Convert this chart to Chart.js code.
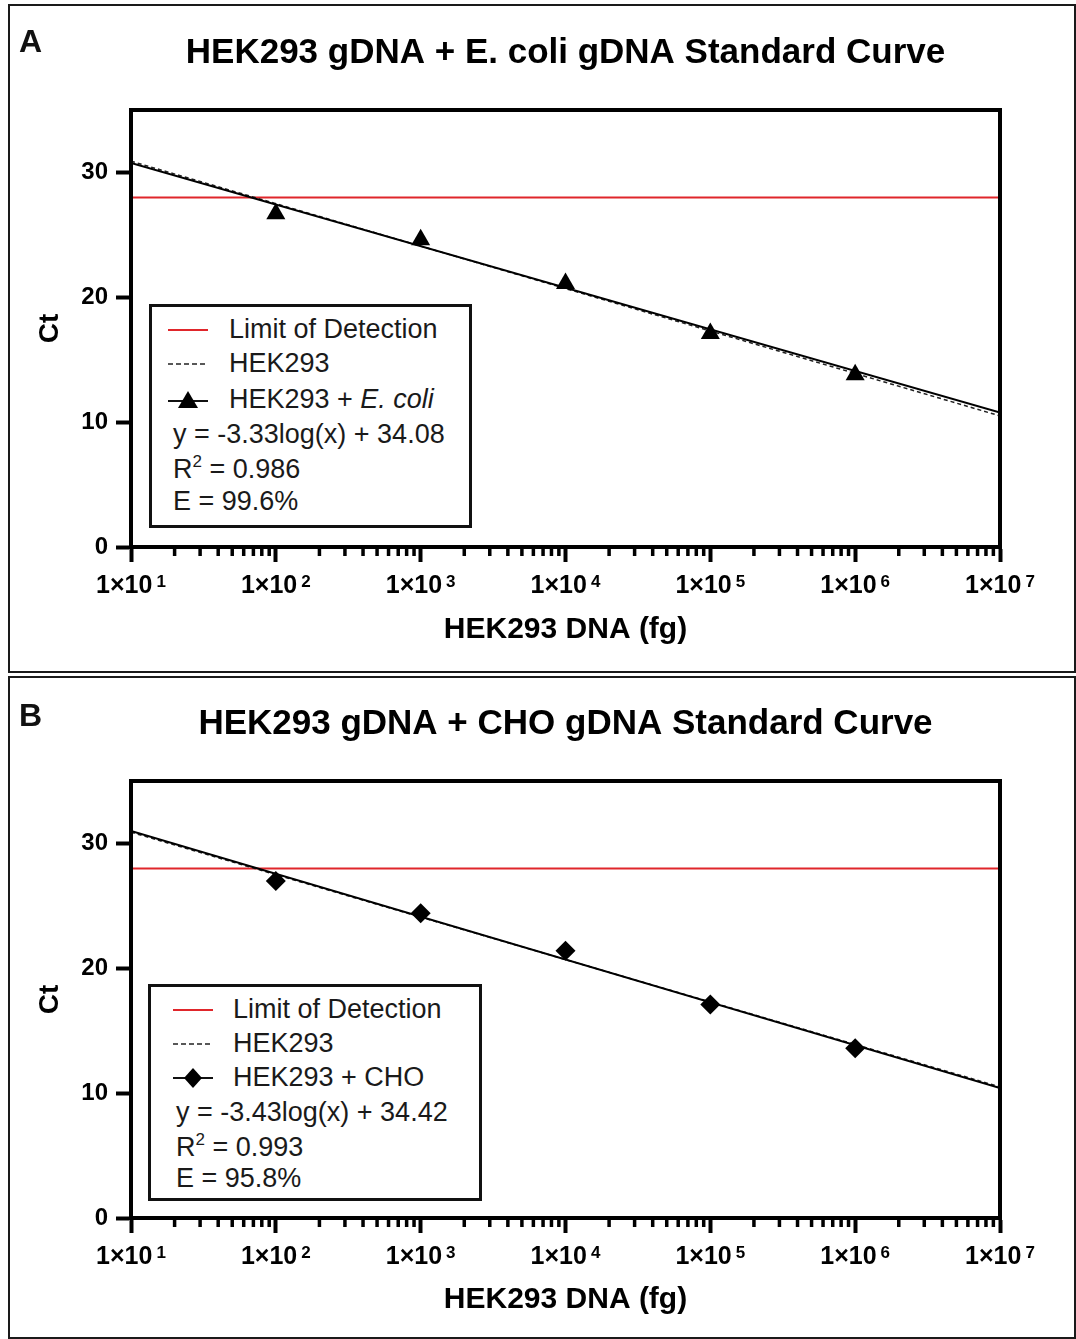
<!DOCTYPE html>
<html><head><meta charset="utf-8">
<script src="https://cdn.jsdelivr.net/npm/chart.js@4.4.1/dist/chart.umd.min.js"></script>
<style>
html,body{margin:0;padding:0;background:#fff;}
body{width:1076px;height:1339px;position:relative;overflow:hidden;font-family:"Liberation Sans",Arial,sans-serif;}
.panel{position:absolute;border:2px solid #1a1a1a;box-sizing:border-box;}
canvas{position:absolute;left:0;}
.letter{position:absolute;font-family:"Liberation Sans",Arial,sans-serif;font-weight:bold;font-size:32px;line-height:32px;color:#111;}
.legend{position:absolute;border:3px solid #111;box-sizing:border-box;background:#fff;font-size:27px;color:#1a1a1a;}
.row{position:absolute;white-space:nowrap;line-height:27px;height:27px;}
.sym{position:absolute;width:40px;height:20px;}
sup{font-size:17px;vertical-align:11px;line-height:0;}
</style></head>
<body>
<div class="panel" style="left:8px;top:4px;width:1068px;height:669px;"></div>
<div class="panel" style="left:8px;top:676px;width:1068px;height:663px;"></div>
<canvas id="cA" width="1076" height="672" style="top:0px;"></canvas>
<canvas id="cB" width="1076" height="668" style="top:671px;"></canvas>
<div class="letter" style="left:19px;top:25px;">A</div>
<div class="letter" style="left:19px;top:699px;">B</div>

<div class="legend" style="left:149px;top:304px;width:323px;height:224px;">
  <svg class="sym" style="left:16px;top:13px;"><line x1="0" y1="10" x2="40" y2="10" stroke="#e0262b" stroke-width="2"/></svg>
  <div class="row" style="left:77px;top:9px;">Limit of Detection</div>
  <svg class="sym" style="left:16px;top:47px;"><line x1="0" y1="10" x2="40" y2="10" stroke="#222" stroke-width="1.5" stroke-dasharray="5 3"/></svg>
  <div class="row" style="left:77px;top:43px;">HEK293</div>
  <svg class="sym" style="left:16px;top:83px;"><line x1="0" y1="11" x2="40" y2="11" stroke="#111" stroke-width="2"/><polygon points="20,1 30,18 10,18" fill="#000"/></svg>
  <div class="row" style="left:77px;top:79px;">HEK293 + <i>E. coli</i></div>
  <div class="row" style="left:21px;top:114px;">y = -3.33log(x) + 34.08</div>
  <div class="row" style="left:21px;top:149px;">R<sup>2</sup> = 0.986</div>
  <div class="row" style="left:21px;top:181px;">E = 99.6%</div>
</div>

<div class="legend" style="left:148px;top:984px;width:334px;height:217px;">
  <svg class="sym" style="left:22px;top:13px;"><line x1="0" y1="10" x2="40" y2="10" stroke="#e0262b" stroke-width="2"/></svg>
  <div class="row" style="left:82px;top:9px;">Limit of Detection</div>
  <svg class="sym" style="left:22px;top:47px;"><line x1="0" y1="10" x2="40" y2="10" stroke="#222" stroke-width="1.5" stroke-dasharray="5 3"/></svg>
  <div class="row" style="left:82px;top:43px;">HEK293</div>
  <svg class="sym" style="left:22px;top:81px;"><line x1="0" y1="10" x2="40" y2="10" stroke="#111" stroke-width="2"/><polygon points="20,0 29,10 20,20 11,10" fill="#000"/></svg>
  <div class="row" style="left:82px;top:77px;">HEK293 + CHO</div>
  <div class="row" style="left:25px;top:112px;">y = -3.43log(x) + 34.42</div>
  <div class="row" style="left:25px;top:147px;">R<sup>2</sup> = 0.993</div>
  <div class="row" style="left:25px;top:178px;">E = 95.8%</div>
</div>

<script>
// ---- data ----
const xTickValues = [1e1, 1e2, 1e3, 1e4, 1e5, 1e6, 1e7];
const xTickBase = '1×10';
const xTickExponents = ['1', '2', '3', '4', '5', '6', '7'];
const yTickValues = [0, 10, 20, 30];
const sampleDNA = [1e2, 1e3, 1e4, 1e5, 1e6];
const ctEcoli = [26.7, 24.6, 21.1, 17.1, 13.8];
const ctCHO = [27.0, 24.4, 21.4, 17.1, 13.6];
const lineX = [1e1, 1e7];
const lodCt = [28.0, 28.0];
const hek293LineCt = [30.9, 10.5];
const ecoliFitCt = [30.75, 10.77];
const choFitCt = [30.99, 10.41];
const titleA = 'HEK293 gDNA + E. coli gDNA Standard Curve';
const titleB = 'HEK293 gDNA + CHO gDNA Standard Curve';
const xTitle = 'HEK293 DNA (fg)';
const yTitle = 'Ct';
const seriesNames = ['Limit of Detection', 'HEK293', 'HEK293 + E. coli', 'HEK293 + CHO'];

const FONT = "'Liberation Sans', Arial, sans-serif";
Chart.defaults.font.family = FONT;
Chart.defaults.color = '#000';

const pts = (xs, ys) => xs.map((x, i) => ({x: x, y: ys[i]}));

const framePlugin = {
  id: 'frame',
  afterDatasetsDraw(chart) {
    const {ctx, chartArea: a} = chart;
    const xs = chart.scales.x;
    ctx.save();
    ctx.strokeStyle = '#000';
    ctx.lineWidth = 4;
    ctx.strokeRect(a.left, a.top, a.right - a.left, a.bottom - a.top);
    // minor log ticks
    ctx.lineWidth = 3.5;
    ctx.beginPath();
    for (let d = 0; d < xTickValues.length - 1; d++) {
      for (let m = 2; m <= 9; m++) {
        const px = xs.getPixelForValue(xTickValues[d] * m);
        ctx.moveTo(px, a.bottom);
        ctx.lineTo(px, a.bottom + 9);
      }
    }
    ctx.stroke();
    // x tick labels with superscript exponents
    ctx.fillStyle = '#000';
    ctx.textBaseline = 'alphabetic';
    ctx.textAlign = 'left';
    const baseFont = 'bold 25px ' + FONT;
    const supFont = 'bold 17px ' + FONT;
    const baseY = a.bottom + 46;
    xTickValues.forEach((v, i) => {
      const px = xs.getPixelForValue(v);
      ctx.font = baseFont;
      const wb = ctx.measureText(xTickBase).width;
      ctx.font = supFont;
      const ws = ctx.measureText(xTickExponents[i]).width;
      const gap = 4;
      const x0 = px - (wb + gap + ws) / 2;
      ctx.font = baseFont;
      ctx.fillText(xTickBase, x0, baseY);
      ctx.font = supFont;
      ctx.fillText(xTickExponents[i], x0 + wb + gap, baseY - 6);
    });
    ctx.restore();
  }
};

function makeChart(id, title, ptsY, fitY, style, radius, xAxisH, xTitlePad) {
  return new Chart(document.getElementById(id), {
    type: 'line',
    data: {
      datasets: [
        {label: seriesNames[0], data: pts(lineX, lodCt), borderColor: '#e0262b', borderWidth: 2, pointRadius: 0, order: 4},
        {label: seriesNames[1], data: pts(lineX, hek293LineCt), borderColor: '#222', borderWidth: 1.5, borderDash: [4, 3], pointRadius: 0, order: 3},
        {label: 'fit', data: pts(lineX, fitY), borderColor: '#000', borderWidth: 2, pointRadius: 0, order: 2},
        {label: 'points', data: pts(sampleDNA, ptsY), showLine: false, pointStyle: style, pointRadius: radius,
         pointBackgroundColor: '#000', pointBorderColor: '#000', pointBorderWidth: 0, order: 1}
      ]
    },
    options: {
      responsive: false,
      animation: false,
      events: [],
      layout: {padding: {left: 0, right: 76, top: 0, bottom: 0}},
      plugins: {
        legend: {display: false},
        tooltip: {enabled: false},
        title: {display: true, text: title, fullSize: false, color: '#000',
                font: {size: 35, weight: 'bold'}, padding: {top: 32, bottom: 36}}
      },
      scales: {
        x: {
          type: 'logarithmic', position: 'bottom', min: 1e1, max: 1e7,
          border: {display: true, width: 4, color: '#000'},
          grid: {display: true, drawOnChartArea: false, drawTicks: true, tickLength: 15, tickWidth: 4, tickColor: '#000'},
          ticks: {display: false, autoSkip: false, maxRotation: 0},
          afterBuildTicks: s => { s.ticks = xTickValues.map(v => ({value: v})); },
          afterFit: s => { s.height = xAxisH; },
          title: {display: true, text: xTitle, color: '#000', font: {size: 30, weight: 'bold'}, padding: {top: 0, bottom: xTitlePad}}
        },
        y: {
          type: 'linear', position: 'left', min: 0, max: 35,
          border: {display: true, width: 4, color: '#000'},
          grid: {display: true, drawOnChartArea: false, drawTicks: true, tickLength: 15, tickWidth: 4, tickColor: '#000'},
          ticks: {padding: 8, color: '#000', font: {size: 24, weight: 'bold'}},
          afterBuildTicks: s => { s.ticks = yTickValues.map(v => ({value: v})); },
          afterFit: s => { s.width = 131; },
          title: {display: true, text: yTitle, color: '#000', font: {size: 28, weight: 'bold'}, padding: {top: 33, bottom: 0}}
        }
      }
    },
    plugins: [framePlugin]
  });
}

makeChart('cA', titleA, ctEcoli, ecoliFitCt, 'triangle', 11, 125, 24);
makeChart('cB', titleB, ctCHO, choFitCt, 'rectRot', 10, 121, 21);
</script>
</body></html>
